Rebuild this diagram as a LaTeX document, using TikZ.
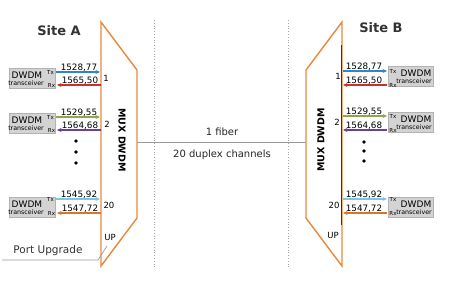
\documentclass[tikz,border=0pt]{standalone}
\usepackage{fontspec}
\setmainfont{DejaVu Sans}
\usetikzlibrary{arrows.meta}
\definecolor{muxorange}{HTML}{E8893C}
\definecolor{cblue}{HTML}{2F86C2}
\definecolor{cred}{HTML}{C8322A}
\definecolor{cgreen}{HTML}{8FA64B}
\definecolor{cpurple}{HTML}{6B3F93}
\definecolor{clblue}{HTML}{7CC6E2}
\definecolor{corange}{HTML}{D9742C}
\definecolor{boxgray}{HTML}{D3D3D3}
\tikzset{
  mux/.style={draw=muxorange,line width=1.4pt,line join=miter},
  sep/.style={draw=gray!70,dotted,line width=0.8pt},
  sig/.style={line width=1.3pt,-{Stealth[length=4.5pt,width=4pt]}},
  trbox/.style={fill=boxgray,draw=gray!60,line width=0.3pt},
  wl/.style={font=\fontsize{8.8}{9}\selectfont,inner sep=0pt},
  dw/.style={font=\fontsize{9}{9}\selectfont,inner sep=0pt},
  tr/.style={font=\fontsize{6.3}{7}\selectfont,inner sep=0pt},
  txrx/.style={font=\fontsize{5.5}{6}\selectfont,inner sep=0pt},
  port/.style={font=\fontsize{8.5}{9}\selectfont,inner sep=0pt},
  dot/.style={circle,fill=black,inner sep=0pt,minimum size=3.6pt},
  site/.style={font=\fontsize{13}{14}\selectfont\bfseries,text=black!80,inner sep=0pt},
  muxlbl/.style={font=\fontsize{9.5}{11}\selectfont\bfseries,inner sep=0pt},
  big/.style={font=\fontsize{10}{12}\selectfont,text=black!85,inner sep=0pt},
}
\begin{document}
\begin{tikzpicture}[x=1pt,y=-1pt]
\useasboundingbox (0,0) rectangle (452,285);
\fill[white] (0,0) rectangle (452,285);
% separators
\coordinate (s1t) at (154,20); \coordinate (s1b) at (154,268);
\coordinate (s2t) at (288,20); \coordinate (s2b) at (288,268);
\draw[sep] (s1t) -- (s1b);
\draw[sep] (s2t) -- (s2b);
% fiber
\coordinate (fa) at (137,142); \coordinate (fb) at (306,142);
\draw[gray!80,line width=1pt] (fa) -- (fb);
\node[big,anchor=base] (fib) at (222,135) {1 fiber};
\node[big,anchor=base] (dup) at (222,157) {20 duplex channels};
% muxes
\draw[mux] (101,22) -- (137,70) -- (137,218) -- (101,266) -- cycle;
\draw[mux] (342,22) -- (306,70) -- (306,218) -- (342,266) -- cycle;
\coordinate (dk1) at (341,45); \coordinate (dk2) at (341,225);
\draw[black!80,line width=0.6pt] (dk1) -- (dk2);
\node[muxlbl,rotate=-90] (mlA) at (122,140) {MUX DWDM};
\node[muxlbl,rotate=90] (mlB) at (321,140) {MUX DWDM};
% sites
\node[site] (siteA) at (59,31) {Site A};
\node[site] (siteB) at (381,28) {Site B};
% channels
\newcommand\lchan[7]{%
  \draw[trbox] (9,#1) rectangle (55,#1+20);
  \node[dw,anchor=base] at (27,#1+10) {DWDM};
  \node[tr,anchor=base] at (26,#1+17.5) {transceiver};
  \node[txrx] at (50.5,#2) {Tx};
  \node[txrx] at (51.5,#3) {Rx};
  \draw[sig,draw=#4,color=#4] (56,#2) -- (100,#2);
  \draw[sig,draw=#5,color=#5] (101,#3) -- (57,#3);
  \node[wl,anchor=base] at (79,#2-1.5) {#6};
  \node[wl,anchor=base] at (80,#3-1.5) {#7};
}
\newcommand\rchan[7]{%
  \draw[trbox] (388,#1) rectangle (433,#1+20);
  \node[dw,anchor=base] at (416,#1+10) {DWDM};
  \node[tr,anchor=base] at (414,#1+17.5) {transceiver};
  \node[txrx] at (393,#2) {Tx};
  \node[txrx] at (393,#3) {Rx};
  \draw[sig,draw=#4,color=#4] (343,#2) -- (387,#2);
  \draw[sig,draw=#5,color=#5] (387,#3) -- (343,#3);
  \node[wl,anchor=base] at (364,#2-1.5) {#6};
  \node[wl,anchor=base] at (364,#3-1.5) {#7};
}
\lchan{68}{72}{85}{cblue}{cred}{1528,77}{1565,50}
\lchan{113}{117}{130}{cgreen}{cpurple}{1529,55}{1564,68}
\lchan{197}{199}{213}{clblue}{corange}{1545,92}{1547,72}
\rchan{66}{71}{85}{cblue}{cred}{1528,77}{1565,50}
\rchan{112}{116}{130}{cgreen}{cpurple}{1529,55}{1564,68}
\rchan{197}{199}{213}{clblue}{corange}{1545,92}{1547,72}
% port numbers
\node[port] (pA1) at (106,78) {1};
\node[port] (pA2) at (107,124) {2};
\node[port] (pA20) at (109,205) {20};
\node[port] (pAup) at (110,237) {UP};
\node[port] (pB1) at (338,76) {1};
\node[port] (pB2) at (337,122) {2};
\node[port] (pB20) at (334,205) {20};
\node[port] (pBup) at (333,235) {UP};
% dots
\node[dot] (dA1) at (76,141) {}; \node[dot] (dA2) at (76,152) {}; \node[dot] (dA3) at (76,163) {};
\node[dot] (dB1) at (364,142) {}; \node[dot] (dB2) at (364,151) {}; \node[dot] (dB3) at (364,161) {};
% port upgrade
\node[font=\fontsize{10.5}{12}\selectfont,text=black!80,inner sep=0pt] (pu) at (48,251) {Port Upgrade};
\coordinate (pu0) at (2,260); \coordinate (pu1) at (98,260); \coordinate (pu2) at (107,246);
\draw[gray!80,line width=0.7pt] (pu0) -- (pu1) -- (pu2);
\end{tikzpicture}
\end{document}
